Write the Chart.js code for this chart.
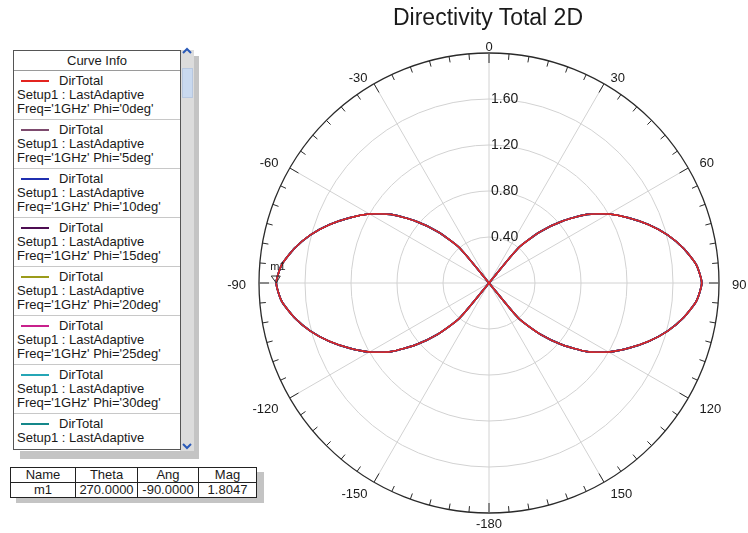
<!DOCTYPE html>
<html>
<head>
<meta charset="utf-8">
<script src="https://cdn.jsdelivr.net/npm/chart.js@4.4.1/dist/chart.umd.min.js"></script>
<style>
  html,body{margin:0;padding:0;background:#fff;}
  body{width:748px;height:533px;position:relative;overflow:hidden;font-family:"Liberation Sans",Arial,sans-serif;color:#1a1a1a;}
  #c{position:absolute;left:0;top:0;}
  #title{position:absolute;left:288px;width:400px;top:4px;text-align:center;font-size:23px;color:#1a1a1a;}
  #shadowB{position:absolute;left:20px;top:451px;width:179px;height:8px;background:#c4c4c4;}
  #shadowR{position:absolute;left:194px;top:56px;width:5px;height:400px;background:#c4c4c4;}
  #scroll{position:absolute;left:180px;top:50px;width:14px;height:401px;background:#dcdcdc;}
  #thumb{position:absolute;left:182px;top:68px;width:11px;height:30px;background:#c9d9ef;border:1px solid #b8c8e0;box-sizing:border-box;}
  .arr{position:absolute;left:180px;width:14px;height:12px;}
  #up{top:45px;}
  #down{top:440px;}
  #legend{position:absolute;left:13px;top:50px;width:166px;height:398px;border:1px solid #555;background:#fff;}
  #legInner{height:394px;overflow:hidden;}
  #legend .hdr{height:20px;line-height:20px;text-align:center;font-size:13px;border-bottom:1px solid #9a9a9a;box-sizing:border-box;}
  #legend .ent{height:49px;border-bottom:1px solid #c8c8c8;font-size:13px;line-height:14px;padding:3px 0 0 3px;box-sizing:border-box;white-space:nowrap;}
  #legend .ent .sw{display:inline-block;width:28px;height:2px;vertical-align:middle;margin:0 10px 0 4px;position:relative;top:-1px;}
  #tblShadow{position:absolute;left:16px;top:472px;width:248px;height:31px;background:#c4c4c4;}
  table{position:absolute;left:10px;top:467px;border-collapse:collapse;background:#fff;font-size:13px;}
  td{border:1px solid #222;height:14px;padding:0;text-align:center;line-height:14px;}
</style>
</head>
<body>
<canvas id="c" width="748" height="533"></canvas>
<div id="title">Directivity Total 2D</div>

<div id="shadowR"></div>
<div id="shadowB"></div>
<div id="scroll"></div>
<div id="thumb"></div>
<svg id="up" class="arr" viewBox="0 0 14 12"><polyline points="3,8 7,4 11,8" fill="none" stroke="#2a5ab8" stroke-width="2"/></svg>
<svg id="down" class="arr" viewBox="0 0 14 12"><polyline points="3,4 7,8 11,4" fill="none" stroke="#2a5ab8" stroke-width="2"/></svg>
<div id="legend"><div id="legInner"></div></div>

<div id="tblShadow"></div>
<table>
  <tr><td style="width:64px">Name</td><td style="width:61px">Theta</td><td style="width:60px">Ang</td><td style="width:57px">Mag</td></tr>
  <tr><td>m1</td><td>270.0000</td><td>-90.0000</td><td>1.8047</td></tr>
</table>

<script>
// ---- DATA ----
// Theta categories (deg), clockwise from top
const thetaDeg = [0,5,10,15,20,25,30,35,40,45,50,55,60,65,70,75,80,85,90,95,100,105,110,115,120,125,130,135,140,145,150,155,160,165,170,175,
                  -180,-175,-170,-165,-160,-155,-150,-145,-140,-135,-130,-125,-120,-115,-110,-105,-100,-95,-90,-85,-80,-75,-70,-65,-60,-55,-50,-45,-40,-35,-30,-25,-20,-15,-10,-5];
// DirTotal magnitude (Phi cuts overlap)
const dirTotal = [0,0,0,0,0,0,0,0,0.40,0.63,0.84,1.04,1.20,1.34,1.48,1.61,1.72,1.81,1.85,1.81,1.72,1.61,1.48,1.34,1.20,1.04,0.84,0.63,0.40,0,0,0,0,0,0,0,
                  0,0,0,0,0,0,0,0,0.40,0.63,0.84,1.04,1.20,1.34,1.48,1.61,1.72,1.81,1.85,1.81,1.72,1.61,1.48,1.34,1.20,1.04,0.84,0.63,0.40,0,0,0,0,0,0,0];
const phiCuts = ["0deg","5deg","10deg","15deg","20deg","25deg","30deg","35deg"];
const curveColors = ["#e3241f","#7d4a6e","#1f2fb0","#4d0d52","#9b9b1a","#c8208c","#25a6b6","#14878a"];
const angleTickLabels = ["0","30","60","90","120","150","-180","-150","-120","-90","-60","-30"];
const radialTickValues = [0.4,0.8,1.2,1.6];
const radialTickLabels = ["0.40","0.80","1.20","1.60"];
const marker = {name:"m1", theta:-90};

// ---- LEGEND (HTML) ----
let html = '<div class="hdr">Curve Info</div>';
phiCuts.forEach((p,i)=>{
  html += '<div class="ent"><span class="sw" style="background:'+curveColors[i]+'"></span>DirTotal<br>Setup1 : LastAdaptive<br>Freq=\'1GHz\' Phi=\''+p+'\'</div>';
});
document.getElementById('legInner').innerHTML = html;

// ---- decorations plugin ----
const polarDeco = {
  id:'polarDeco',
  afterDraw(chart){
    const s = chart.scales.r, c = chart.ctx;
    const n = chart.data.labels.length;
    const R = s.drawingArea;
    c.save();
    // outer tick marks every 5 deg
    c.strokeStyle = '#2a2a2a'; c.lineWidth = 1;
    for(let i=0;i<n;i++){
      const len = (i%6===0)?10:6;
      const p1 = s.getPointPosition(i, R), p2 = s.getPointPosition(i, R-len);
      c.beginPath(); c.moveTo(p1.x,p1.y); c.lineTo(p2.x,p2.y); c.stroke();
    }
    // angle labels
    c.fillStyle = '#1a1a1a';
    c.font = '13px "Liberation Sans", Arial, sans-serif';
    c.textAlign = 'center'; c.textBaseline = 'middle';
    angleTickLabels.forEach((t,k)=>{
      const i = k*6;
      const a = s.getIndexAngle(i);
      const sn = Math.sin(a), cs = Math.cos(a);
      const w = c.measureText(t).width;
      const sgS = Math.abs(sn) < 0.1 ? 0 : Math.sign(sn);
      const x = s.xCenter + sn*(R+13) + sgS*w/2;
      let y;
      if (cs > 0.1) y = s.yCenter - cs*(R+3) - 3;
      else if (cs < -0.1) y = s.yCenter - cs*(R+5.5) + 5.5 + 3.5*Math.abs(sn);
      else y = s.yCenter + 2;
      c.fillText(t, x, y);
    });
    // radial tick labels
    c.font = '14px "Liberation Sans", Arial, sans-serif';
    c.textAlign = 'left';
    radialTickValues.forEach((v,k)=>{
      const d = s.getDistanceFromCenterForValue(v);
      c.fillText(radialTickLabels[k], s.xCenter + 2, s.yCenter - d);
    });
    // marker m1
    const idx = thetaDeg.indexOf(marker.theta);
    const pt = chart.getDatasetMeta(0).data[idx];
    c.strokeStyle = '#333'; c.lineWidth = 1;
    c.beginPath();
    c.moveTo(pt.x, pt.y); c.lineTo(pt.x-5, pt.y-7); c.lineTo(pt.x+4, pt.y-7); c.closePath(); c.stroke();
    c.font = '11px "Liberation Sans", Arial, sans-serif';
    c.textAlign = 'left'; c.textBaseline = 'alphabetic';
    c.fillText(marker.name, pt.x-6, pt.y-13);
    c.restore();
  }
};

const datasets = phiCuts.map((p,i)=>({
  label: "DirTotal Phi='"+p+"'",
  data: dirTotal,
  borderColor: curveColors[i],
  borderWidth: i===0 ? 1.3 : 1.7,
  fill: false,
  pointRadius: 0
}));

new Chart(document.getElementById('c'), {
  type:'radar',
  data:{labels: thetaDeg.map(String), datasets},
  options:{
    responsive:false, animation:false, devicePixelRatio:1,
    layout:{padding:{left:259,right:29,top:53,bottom:20}},
    plugins:{legend:{display:false}, tooltip:{enabled:false}, title:{display:false}},
    elements:{line:{tension:0.2}, point:{radius:0}},
    scales:{r:{
      min:0, max:2,
      ticks:{stepSize:0.4, display:false},
      pointLabels:{display:false},
      grid:{circular:true,
        color: ctx => (ctx.tick && ctx.tick.value > 1.99) ? '#2a2a2a' : '#d2d2d2',
        lineWidth: ctx => (ctx.tick && ctx.tick.value > 1.99) ? 1.3 : 1},
      angleLines:{display:true,
        color:'#d2d2d2',
        lineWidth: ctx => (ctx.index % 6 === 0) ? 1 : 0}
    }}
  },
  plugins:[polarDeco]
});
</script>
</body>
</html>
